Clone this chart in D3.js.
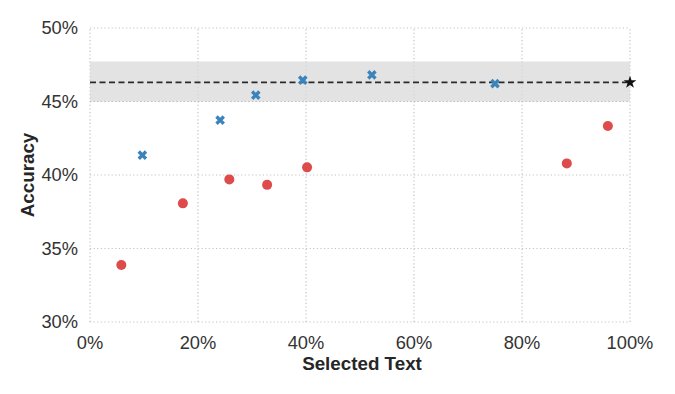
<!DOCTYPE html>
<html>
<head>
<meta charset="utf-8">
<script src="https://cdn.jsdelivr.net/npm/d3@7"></script>
<style>
  body { margin: 0; background: #fff; }
  svg { display: block; font-family: "Liberation Sans", Arial, sans-serif; }
</style>
</head>
<body>
<div id="chart"></div>
<script>
// selected-text fraction (x) vs accuracy (y), percentages
const redX = [5.8, 17.2, 25.8, 32.8, 40.2, 88.3, 95.9]
const redY = [33.88, 38.07, 39.70, 39.33, 40.52, 40.79, 43.33]
const blueX = [9.7, 24.1, 30.7, 39.4, 52.2, 75.0]
const blueY = [41.35, 43.73, 45.43, 46.45, 46.81, 46.22]
const refValue = 46.3        // full-text accuracy (dashed line + star at 100%)
const bandLow = 45.0
const bandHigh = 47.72
const xTicks = [0, 20, 40, 60, 80, 100]
const yTicks = [30, 35, 40, 45, 50]

const width = 675
const height = 394
const margin = {top: 28, right: 45, bottom: 72, left: 90}

const svg = d3.select("#chart").append("svg")
    .attr("width", width)
    .attr("height", height)

const x = d3.scaleLinear().domain([0, 100]).range([margin.left, width - margin.right])
const y = d3.scaleLinear().domain([30, 50]).range([height - margin.bottom, margin.top])

// grid (dotted, including the frame)
const grid = svg.append("g")
    .attr("stroke", "#c4c4c4")
    .attr("stroke-width", 1.2)
    .attr("stroke-dasharray", "1.2,2.4")
grid.selectAll(".vx").data(xTicks).join("line")
    .attr("x1", d => x(d)).attr("x2", d => x(d))
    .attr("y1", y(30)).attr("y2", y(50))
grid.selectAll(".hy").data(yTicks).join("line")
    .attr("y1", d => y(d)).attr("y2", d => y(d))
    .attr("x1", x(0)).attr("x2", x(100))

// shaded band
svg.append("rect")
    .attr("x", x(0))
    .attr("width", x(100) - x(0))
    .attr("y", y(bandHigh))
    .attr("height", y(bandLow) - y(bandHigh))
    .attr("fill", "#d9d9d9")
    .attr("opacity", 0.75)

// redraw the 45% grid line over the band
svg.append("line")
    .attr("x1", x(0)).attr("x2", x(100))
    .attr("y1", y(45)).attr("y2", y(45))
    .attr("stroke", "#bdbdbd")
    .attr("stroke-width", 1.2)
    .attr("stroke-dasharray", "1.2,2.4")

// reference dashed line
svg.append("line")
    .attr("x1", x(0)).attr("x2", x(100))
    .attr("y1", y(refValue)).attr("y2", y(refValue))
    .attr("stroke", "#2b2b2b")
    .attr("stroke-width", 1.6)
    .attr("stroke-dasharray", "6,3.5")

// tick labels
svg.append("g").selectAll("text").data(xTicks).join("text")
    .attr("x", d => x(d))
    .attr("y", height - margin.bottom + 27)
    .attr("text-anchor", "middle")
    .attr("font-size", 18.3)
    .attr("fill", "#333")
    .text(d => d + "%")

svg.append("g").selectAll("text").data(yTicks).join("text")
    .attr("x", margin.left - 12)
    .attr("y", d => y(d))
    .attr("dy", "0.35em")
    .attr("text-anchor", "end")
    .attr("font-size", 18.3)
    .attr("fill", "#333")
    .text(d => d + "%")

// axis titles
svg.append("text")
    .attr("x", (x(0) + x(100)) / 2 + 2)
    .attr("y", height - margin.bottom + 48)
    .attr("text-anchor", "middle")
    .attr("font-size", 18.8)
    .attr("font-weight", "bold")
    .attr("fill", "#262626")
    .text("Selected Text")

svg.append("text")
    .attr("transform", `translate(34,${(y(30) + y(50)) / 2}) rotate(-90)`)
    .attr("text-anchor", "middle")
    .attr("font-size", 18.8)
    .attr("font-weight", "bold")
    .attr("fill", "#262626")
    .text("Accuracy")

// red circles
svg.append("g").selectAll("circle").data(d3.range(redX.length)).join("circle")
    .attr("cx", i => x(redX[i]))
    .attr("cy", i => y(redY[i]))
    .attr("r", 5)
    .attr("fill", "#dd4b4b")

// blue x markers
const cross = d3.symbol().type(d3.symbolCross).size(58)
svg.append("g").selectAll("path").data(d3.range(blueX.length)).join("path")
    .attr("d", cross)
    .attr("transform", i => `translate(${x(blueX[i])},${y(blueY[i])}) rotate(45)`)
    .attr("fill", "#3b84bb")

// star at 100%
svg.append("path")
    .attr("d", d3.symbol().type(d3.symbolStar).size(50))
    .attr("transform", `translate(${x(100)},${y(refValue)})`)
    .attr("fill", "#111")
</script>
</body>
</html>
